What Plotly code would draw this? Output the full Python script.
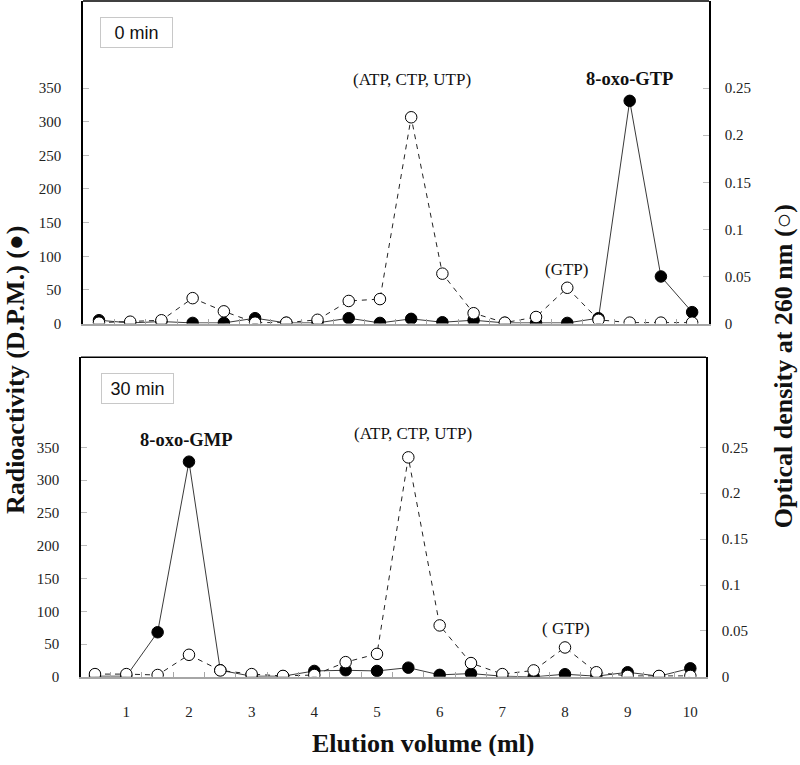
import plotly.graph_objects as go

# ---------------- data ----------------
elution_ml = [0.5, 1.0, 1.5, 2.0, 2.5, 3.0, 3.5, 4.0, 4.5, 5.0,
              5.5, 6.0, 6.5, 7.0, 7.5, 8.0, 8.5, 9.0, 9.5, 10.0]

dpm_0min = [5, 1, 3, 1, 1, 8, 1, 1, 8, 1, 7, 2, 5, 1, 1, 1, 8, 331, 70, 17]
od_0min = [0.001, 0.002, 0.0035, 0.027, 0.013, 0.001, 0.001, 0.004, 0.024, 0.026,
           0.219, 0.053, 0.011, 0.001, 0.007, 0.038, 0.004, 0.001, 0.001, 0.001]

dpm_30min = [1, 1, 68, 328, 10, 1, 1, 9, 10, 9, 14, 3, 5, 1, 0, 4, 1, 7, 1, 13]
od_30min = [0.003, 0.003, 0.002, 0.024, 0.007, 0.003, 0.001, 0.002, 0.016, 0.025,
            0.239, 0.056, 0.015, 0.003, 0.007, 0.032, 0.005, 0.001, 0.001, 0.001]

dpm_ticks = [0, 50, 100, 150, 200, 250, 300, 350]
od_ticks = [0, 0.05, 0.1, 0.15, 0.2, 0.25]
x_ticks = [1, 2, 3, 4, 5, 6, 7, 8, 9, 10]
x_minor_ticks = [0.75 + 0.5 * i for i in range(19)]

W, H = 800, 765
def px(x):
    return x / W
def py(y):
    return 1 - y / H

SERIF = "Liberation Serif, Times New Roman, serif"
SANS = "Liberation Sans, Arial, sans-serif"
GRAY = "#a6a6a6"

fig = go.Figure()

def add_panel(xa, ya, ya2, dpm, od):
    # lines first
    fig.add_trace(go.Scatter(x=elution_ml, y=dpm, mode="lines", xaxis=xa, yaxis=ya,
                             line=dict(color="#222222", width=0.9), showlegend=False,
                             hoverinfo="skip"))
    fig.add_trace(go.Scatter(x=elution_ml, y=od, mode="lines", xaxis=xa, yaxis=ya2,
                             line=dict(color="#222222", width=1, dash="5px,5px"),
                             showlegend=False, hoverinfo="skip"))
    # markers on top
    fig.add_trace(go.Scatter(x=elution_ml, y=dpm, mode="markers", xaxis=xa, yaxis=ya,
                             marker=dict(symbol="circle", size=11.5, color="black",
                                         line=dict(color="black", width=1)),
                             name="Radioactivity", showlegend=False))
    fig.add_trace(go.Scatter(x=elution_ml, y=od, mode="markers", xaxis=xa, yaxis=ya2,
                             marker=dict(symbol="circle", size=11.5, color="white",
                                         line=dict(color="black", width=1)),
                             name="OD260", showlegend=False))

add_panel("x", "y", "y2", dpm_0min, od_0min)
add_panel("x2", "y3", "y4", dpm_30min, od_30min)

top_dom_y = [py(327), py(1)]
bot_dom_y = [py(684), py(361)]
top_dom_x = [px(83), px(709)]
bot_dom_x = [px(81), px(706)]

top_max = (327 - 1) / 0.68
bot_max = (684 - 361) / 0.6629
ratio = 1400.0

xcommon = dict(showgrid=False, zeroline=False, showline=True, linecolor=GRAY,
               linewidth=1.5, ticks="",
               minor=dict(tickvals=x_minor_ticks, ticks="inside", ticklen=5,
                          tickcolor=GRAY, tickwidth=1, showgrid=False))
ycommon = dict(showgrid=False, zeroline=False, showline=True, linecolor="black",
               linewidth=1.5, ticks="inside", ticklen=6, tickcolor="#bbbbbb",
               tickfont=dict(family=SERIF, size=15, color="#222222"))

fig.update_layout(
    width=W, height=H,
    margin=dict(l=0, r=0, t=0, b=0),
    paper_bgcolor="white", plot_bgcolor="white",
    showlegend=False,
    xaxis=dict(domain=top_dom_x, range=[0.244, 10.27], anchor="y",
               showticklabels=False, **xcommon),
    xaxis2=dict(domain=bot_dom_x, range=[0.277, 10.25], anchor="y3",
                tickvals=x_ticks, ticklabelstandoff=20,
                tickfont=dict(family=SERIF, size=15, color="#222222"), **xcommon),
    yaxis=dict(domain=top_dom_y, range=[0, top_max], anchor="x", tickvals=dpm_ticks,
               ticklabelstandoff=17, **ycommon),
    yaxis2=dict(domain=top_dom_y, range=[0, top_max / ratio], anchor="x", overlaying="y",
                side="right", tickvals=od_ticks, ticklabelstandoff=11, **ycommon),
    yaxis3=dict(domain=bot_dom_y, range=[0, bot_max], anchor="x2", tickvals=dpm_ticks,
                ticklabelstandoff=17, **ycommon),
    yaxis4=dict(domain=bot_dom_y, range=[0, bot_max / ratio], anchor="x2", overlaying="y3",
                side="right", tickvals=od_ticks, ticklabelstandoff=11, **ycommon),
)

# top frame lines
fig.add_shape(type="line", xref="x domain", yref="y domain", x0=0, x1=1, y0=1, y1=1,
              line=dict(color="black", width=1.5))
fig.add_shape(type="line", xref="x2 domain", yref="y3 domain", x0=0, x1=1, y0=1, y1=1,
              line=dict(color="black", width=1.5))

ann = []
def label(text, x, y, size, bold=False, family=SERIF, **kw):
    t = f"<b>{text}</b>" if bold else text
    kw.setdefault("borderpad", 0)
    ann.append(dict(text=t, x=px(x), y=py(y), xref="paper", yref="paper",
                    xanchor="center", yanchor="middle", showarrow=False,
                    font=dict(family=family, size=size, color="#111111"), **kw))

# panel labels (boxed)
label("0 min", 136.5, 32.5, 18, family=SANS, bordercolor="#c8c8c8", borderwidth=1,
      width=71, height=29, bgcolor="white")
label("30 min", 137.5, 393, 18, family=SANS, bordercolor="#c8c8c8", borderwidth=1,
      width=71, height=29, bgcolor="white")

# peak labels
label("(ATP, CTP, UTP)", 412, 80, 17)
label("8-oxo-GTP", 629, 80, 18.5, bold=True)
label("(GTP)", 566.5, 272, 17)
label("8-oxo-GMP", 186, 445, 18.5, bold=True)
label("(ATP, CTP, UTP)", 413, 438, 17)
label("( GTP)", 566, 635, 17)

# axis titles (boxes kept inside the figure so they do not push margins)
label("Radioactivity (D.P.M.) (●)", 16, 374, 26, bold=True, textangle=-90, height=30)
label("Optical density at 260 nm (○)", 784, 370, 26, bold=True, textangle=-90, height=30)
label("Elution volume (ml)", 423, 751, 26, bold=True, height=26)

fig.update_layout(annotations=ann)

# remove the browser's default 8px body margin so the figure sits at the page origin
fig.write_html("out.html", config={"displayModeBar": False},
               post_script="document.body.style.margin='0';")
